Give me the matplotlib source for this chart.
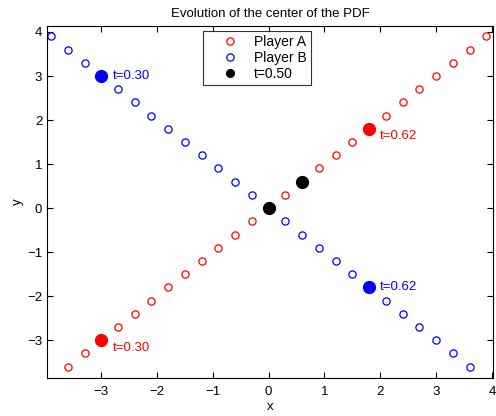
import numpy as np
import matplotlib
matplotlib.use('Agg')
import matplotlib.pyplot as plt
from matplotlib.lines import Line2D

plt.rcParams['font.family'] = ['Liberation Sans', 'DejaVu Sans']

# centre positions of the two players
ax_a = [-3.6, -3.3, -2.7, -2.4, -2.1, -1.8, -1.5, -1.2, -0.9, -0.6, -0.3,
        0.3, 0.9, 1.2, 1.5, 2.1, 2.4, 2.7, 3.0, 3.3, 3.6, 3.9]
ay_a = [-3.6, -3.3, -2.7, -2.4, -2.1, -1.8, -1.5, -1.2, -0.9, -0.6, -0.3,
        0.3, 0.9, 1.2, 1.5, 2.1, 2.4, 2.7, 3.0, 3.3, 3.6, 3.9]
bx = [-3.9, -3.6, -3.3, -2.7, -2.4, -2.1, -1.8, -1.5, -1.2, -0.9, -0.6, -0.3,
      0.3, 0.6, 0.9, 1.2, 1.5, 2.1, 2.4, 2.7, 3.0, 3.3, 3.6]
by = [3.9, 3.6, 3.3, 2.7, 2.4, 2.1, 1.8, 1.5, 1.2, 0.9, 0.6, 0.3,
      -0.3, -0.6, -0.9, -1.2, -1.5, -2.1, -2.4, -2.7, -3.0, -3.3, -3.6]

# highlighted times
a_hl_x = [-3.0, 1.8]
a_hl_y = [-3.0, 1.8]
a_hl_lab = ['t=0.30', 't=0.62']
b_hl_x = [-3.0, 1.8]
b_hl_y = [3.0, -1.8]
b_hl_lab = ['t=0.30', 't=0.62']
mid_x = [0.0, 0.6]
mid_y = [0.0, 0.6]

red = '#ff0000'
blue = '#0000ff'
fs = 9.5

fig = plt.figure(figsize=(4.96, 4.16), dpi=100)
ax = fig.add_axes([0.095, 0.091, 0.899, 0.847])

ax.plot(ax_a, ay_a, 'o', mfc='none', mec=red, ms=5.2, mew=0.9)
ax.plot(bx, by, 'o', mfc='none', mec=blue, ms=5.2, mew=0.9)
ax.plot(mid_x, mid_y, 'o', color='k', ms=8.5)

ax.plot(a_hl_x, a_hl_y, 'o', color=red, ms=8.5)
ax.plot(b_hl_x, b_hl_y, 'o', color=blue, ms=8.5)
for x, y, s in zip(a_hl_x, a_hl_y, a_hl_lab):
    ax.text(x + 0.2, y - 0.17, s, color=red, fontsize=fs, va='center')
for x, y, s in zip(b_hl_x, b_hl_y, b_hl_lab):
    ax.text(x + 0.2, y, s, color=blue, fontsize=fs, va='center')

ax.set_xlim(-3.97, 4.02)
ax.set_ylim(-3.86, 4.14)
ax.set_xticks(range(-3, 5))
ax.set_yticks(range(-3, 5))
ax.set_xticklabels(['\u22123', '\u22122', '\u22121', '0', '1', '2', '3', '4'])
ax.set_yticklabels(['\u22123', '\u22122', '\u22121', '0', '1', '2', '3', '4'])
ax.tick_params(direction='in', top=True, right=True, labelsize=fs, length=4)
ax.tick_params(axis='x', pad=6)
ax.set_title('Evolution of the center of the PDF', fontsize=fs, pad=6)
ax.set_xlabel('x', fontsize=fs, labelpad=2)
ax.set_ylabel('y', fontsize=fs, labelpad=2)

handles = [
    Line2D([], [], ls='none', marker='o', mfc='none', mec=red, ms=5.2, mew=0.9),
    Line2D([], [], ls='none', marker='o', mfc='none', mec=blue, ms=5.2, mew=0.9),
    Line2D([], [], ls='none', marker='o', color='k', ms=5.5),
]
leg = ax.legend(handles, ['Player A', 'Player B', 't=0.50'],
                loc='upper left', bbox_to_anchor=(0.35, 0.986), fontsize=10,
                frameon=True, fancybox=False, edgecolor='k', borderpad=0.3,
                borderaxespad=0, handletextpad=0.15, labelspacing=0.15,
                handlelength=3.2)
leg.get_frame().set_linewidth(0.8)

plt.savefig('out.png', dpi=100)
